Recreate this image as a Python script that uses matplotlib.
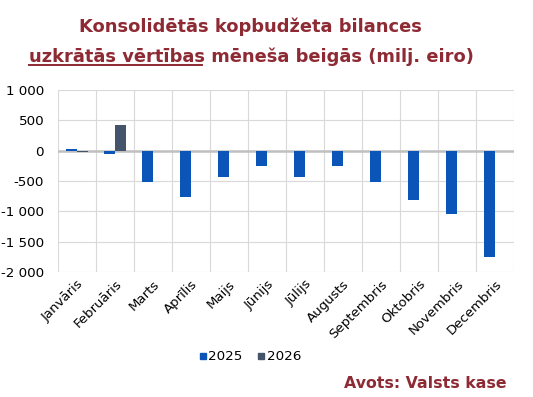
import numpy as np
import matplotlib
matplotlib.use("Agg")
import matplotlib.pyplot as plt
from matplotlib.lines import Line2D
from matplotlib.ticker import FuncFormatter

months = ["Janvāris", "Februāris", "Marts", "Aprīlis", "Maijs", "Jūnijs",
          "Jūlijs", "Augusts", "Septembris", "Oktobris", "Novembris", "Decembris"]
vals_2025 = [20, -50, -520, -770, -430, -260, -430, -260, -510, -810, -1040, -1750]
vals_2026 = [-20, 430]
series_names = ["2025", "2026"]

c25 = "#0b55b8"
c26 = "#44546a"
title_col = "#8e2a33"

plt.rcParams["font.family"] = "DejaVu Sans"

fig = plt.figure(figsize=(5.33, 3.97), dpi=100)
ax = fig.add_axes([58 / 533, 1 - 272 / 397, 456 / 533, 182 / 397])

x = np.arange(len(months))
w = 0.29
ax.bar(x - w / 2, vals_2025, width=w, color=c25, zorder=3)
ax.bar(x[:len(vals_2026)] + w / 2, vals_2026, width=w, color=c26, zorder=3)

ax.set_xlim(-0.5, len(months) - 0.5)
ax.set_ylim(-2000, 1000)
ax.set_yticks(np.arange(-2000, 1001, 500))
ax.yaxis.set_major_formatter(FuncFormatter(lambda v, p: f"{int(v):,}".replace(",", " ")))
ax.set_xticks(x)
ax.set_xticklabels(months, rotation=45, ha="right", rotation_mode="anchor", fontsize=9.5)
ax.tick_params(axis="y", labelsize=9.7, length=0, pad=10)
ax.tick_params(axis="x", length=0, pad=4)

# grid: horizontal lines + vertical category separators
ax.grid(axis="y", color="#d9d9d9", linewidth=0.8, zorder=0)
for b in np.arange(-0.5, len(months), 1.0):
    ax.axvline(b, color="#d9d9d9", linewidth=0.8, zorder=0)
ax.axhline(0, color="#bfbfbf", linewidth=1.8, zorder=2)
for s in ax.spines.values():
    s.set_visible(False)

# legend
handles = [Line2D([], [], marker="s", linestyle="none", color=c, markersize=5) for c in (c25, c26)]
fig.legend(handles, series_names, loc="center", bbox_to_anchor=(248 / 533, 1 - 357 / 397),
           ncol=2, frameon=False, fontsize=9.7, handletextpad=-0.2, columnspacing=0.8,
           handlelength=1.2)

# title; first part of line 2 is underlined
tsize = 12.9
head = "uzkrātās vērtības"
tail = " mēneša beigās (milj. eiro)"
fig.text(0.47, 1 - 27 / 397, "Konsolidētās kopbudžeta bilances", ha="center", va="center",
         fontsize=tsize, fontweight="bold", color=title_col)
line2 = fig.text(251 / 533, 1 - 57 / 397, head + tail,
                 ha="center", va="center", fontsize=tsize, fontweight="bold", color=title_col)
fig.canvas.draw()
r = fig.canvas.get_renderer()
bb = line2.get_window_extent(r)
probe = fig.text(0, 0, tail.strip(), fontsize=tsize, fontweight="bold")
tw = probe.get_window_extent(r).width
probe.remove()
x_end = bb.x1 - tw - 9
uy = (bb.y0 + 1) / fig.bbox.height
fig.add_artist(Line2D([bb.x0 / fig.bbox.width, x_end / fig.bbox.width], [uy, uy],
                      color=title_col, linewidth=1.4))

fig.text(507 / 533, 1 - 384 / 397, "Avots: Valsts kase", ha="right", va="center",
         fontsize=11.3, fontweight="bold", color=title_col)

fig.savefig("out.png", dpi=100)
